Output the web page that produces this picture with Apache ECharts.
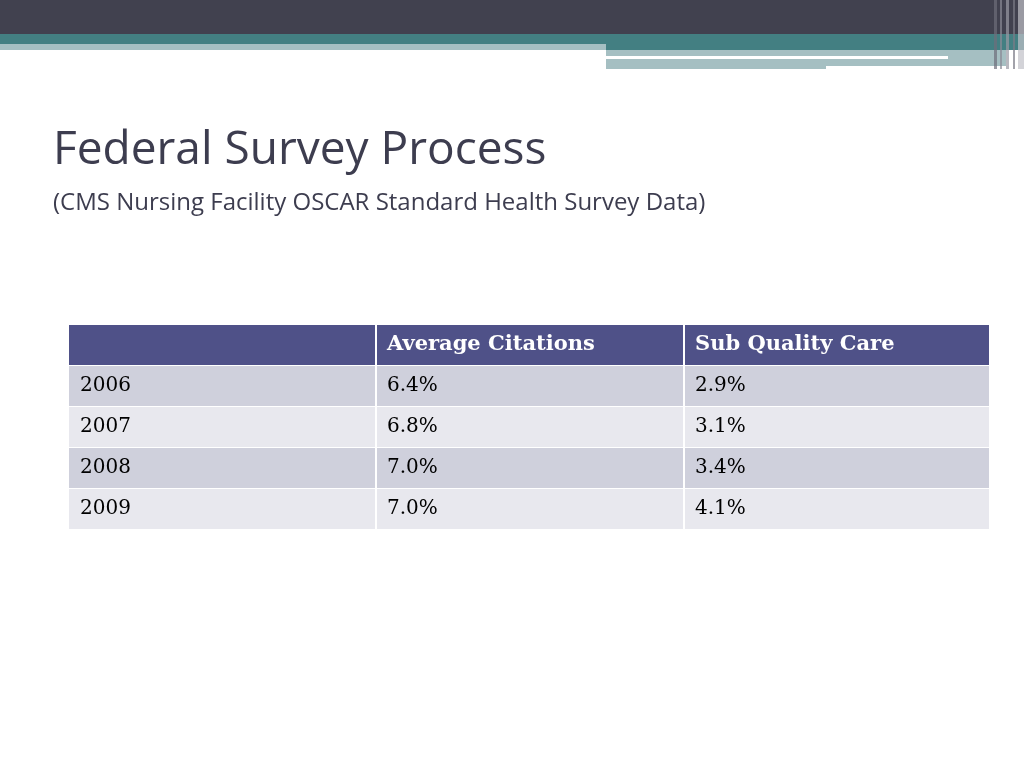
<!DOCTYPE html>
<html><head><meta charset="utf-8">
<script src="https://cdn.jsdelivr.net/npm/echarts@6/dist/echarts.min.js"></script>
<style>html,body{margin:0;padding:0;background:#fff}#c{width:1024px;height:768px}</style>
</head><body><div id="c"></div>
<script>
const headers = ['', 'Average Citations', 'Sub Quality Care'];
const years = ['2006', '2007', '2008', '2009'];
const avgCitations = ['6.4%', '6.8%', '7.0%', '7.0%'];
const subQuality = ['2.9%', '3.1%', '3.4%', '4.1%'];

const chart = echarts.init(document.getElementById('c'));
const colX = [69, 376, 684, 989];
const top0 = 325, rowH = 41;
const els = [];

// slide decoration
els.push({type: 'rect', shape: {x: 0, y: 0, width: 1024, height: 34}, style: {fill: '#41414f'}});
els.push({type: 'rect', shape: {x: 0, y: 34, width: 1024, height: 16}, style: {fill: '#437f82'}});
els.push({type: 'rect', shape: {x: 0, y: 44, width: 606, height: 6}, style: {fill: '#a5bfc2'}});
els.push({type: 'rect', shape: {x: 606, y: 50, width: 400, height: 19}, style: {fill: '#a5bfc2'}});
els.push({type: 'rect', shape: {x: 606, y: 56, width: 342, height: 3}, style: {fill: '#ffffff'}});
els.push({type: 'rect', shape: {x: 826, y: 66, width: 180, height: 4}, style: {fill: '#ffffff'}});
[[994, 3, '#6d6d7a'], [1000, 2, '#8a8a96'], [1006, 3, '#9a9aa4'], [1013, 2, '#7a7a86'], [1018, 6, '#c0c0c8']].forEach(function (v) {
  els.push({type: 'rect', shape: {x: v[0], y: 0, width: v[1], height: 69}, style: {fill: v[2], opacity: 0.7}});
});

// title
els.push({type: 'text', x: 53, y: 128, style: {text: 'Federal Survey Process', font: '46px "Open Sans", sans-serif', fill: '#3d3d4f'}});
els.push({type: 'text', x: 53, y: 191, style: {text: '(CMS Nursing Facility OSCAR Standard Health Survey Data)', font: '24px "Open Sans", sans-serif', fill: '#3d3d4f'}});

// table
els.push({type: 'rect', shape: {x: colX[0], y: top0, width: colX[3] - colX[0], height: rowH - 1}, style: {fill: '#4f5188'}});
headers.forEach(function (h, i) {
  els.push({type: 'text', x: colX[i] + 11, y: top0 + 20, style: {text: h, font: 'bold 21px "DejaVu Serif", serif', fill: '#ffffff', verticalAlign: 'middle'}});
});
years.forEach(function (y, r) {
  const ry = top0 + rowH * (r + 1);
  els.push({type: 'rect', shape: {x: colX[0], y: ry, width: colX[3] - colX[0], height: rowH - 1}, style: {fill: r % 2 ? '#e8e8ee' : '#cfd0dc'}});
  [y, avgCitations[r], subQuality[r]].forEach(function (t, i) {
    els.push({type: 'text', x: colX[i] + 11, y: ry + 20, style: {text: t, font: '20px "DejaVu Serif", serif', fill: '#000000', verticalAlign: 'middle'}});
  });
});
[376, 684].forEach(function (x) {
  els.push({type: 'rect', shape: {x: x - 1, y: top0, width: 2, height: rowH * 5}, style: {fill: '#ffffff'}});
});

chart.setOption({animation: false, graphic: {elements: els}});
</script></body></html>
